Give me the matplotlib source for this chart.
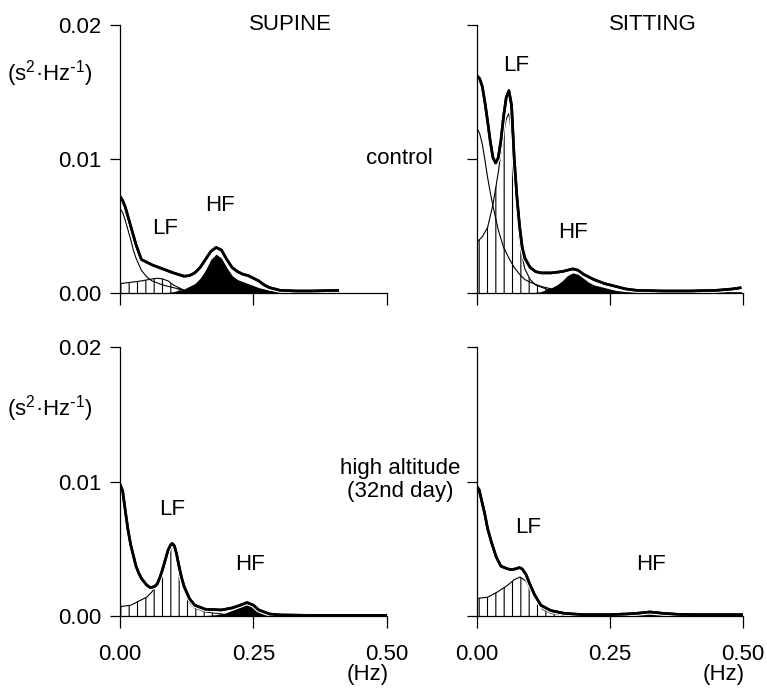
import matplotlib
matplotlib.use("Agg")
import matplotlib.pyplot as plt
import matplotlib.patheffects as pe

# ---- supine, control -------------------------------------------------------
sup_ctl_f_total = [0, .005, .01, .015, .02, .025, .03, .04, .05, .06, .08, .10, .12, .13,
                   .14, .15, .16, .17, .18, .19, .20, .21, .22, .23, .24, .25, .26, .27,
                   .28, .30, .33, .36, .41]
sup_ctl_total = [.0072, .0069, .0064, .0057, .0050, .0043, .0036, .0025, .0023, .0021, .0018,
                 .0015, .00125, .0013, .0015, .0019, .0025, .0031, .0034, .0032, .0025, .0019,
                 .0016, .0014, .0013, .0011, .0009, .0006, .0004, .0002, .00015, .00015, .0002]
sup_ctl_f_vlf = [0, .005, .01, .015, .02, .025, .03, .04, .05, .06, .08, .10, .12, .15, .18]
sup_ctl_vlf = [.0063, .0060, .0054, .0047, .0040, .0032, .0026, .0017, .0012, .0009, .0006,
               .0004, .0002, .0001, 0]
sup_ctl_f_lf = [0, .02, .04, .06, .07, .08, .09, .10, .11, .12, .13, .15]
sup_ctl_lf = [.0007, .0008, .0009, .00105, .0011, .00105, .0009, .0006, .0004, .0002, .0001, 0]
sup_ctl_f_hf = [.08, .10, .12, .14, .15, .16, .17, .18, .19, .20, .21, .22, .24, .26, .28,
                .30, .35, .41]
sup_ctl_hf = [0, .0001, .0003, .0007, .0011, .0017, .0025, .0029, .0026, .0019, .0013, .0010,
              .0007, .0004, .0002, .0001, .00008, .00008]

# ---- sitting, control ------------------------------------------------------
sit_ctl_f_total = [0, .005, .01, .015, .02, .025, .03, .035, .04, .045, .05, .055, .06, .065,
                   .07, .075, .08, .085, .09, .10, .11, .12, .14, .16, .17, .18, .19, .20,
                   .22, .24, .26, .28, .30, .35, .40, .45, .48, .497]
sit_ctl_total = [.0162, .0160, .0154, .0142, .0128, .0113, .0101, .0097, .0101, .0114, .0132,
                 .0146, .0151, .0140, .0100, .0072, .0050, .0034, .0026, .0019, .0016, .0015,
                 .0015, .0016, .0017, .0018, .0017, .0014, .0010, .0007, .0005, .0003, .0002,
                 .00015, .00015, .0002, .0003, .0004]
sit_ctl_f_vlf = [0, .005, .01, .015, .02, .025, .03, .04, .05, .06, .07, .08, .09, .10, .12,
                 .14, .17, .20]
sit_ctl_vlf = [.0123, .0119, .0111, .0099, .0086, .0075, .0065, .0047, .0034, .0026, .0019,
               .0014, .0010, .0008, .0005, .0003, .0001, 0]
sit_ctl_f_lf = [0, .01, .02, .03, .04, .045, .05, .055, .06, .065, .07, .075, .08, .085, .09,
                .10, .11, .13, .15]
sit_ctl_lf = [.0038, .0042, .0049, .0066, .0090, .0105, .0119, .0130, .0134, .0118, .0088,
              .0060, .0038, .0027, .0018, .0010, .0006, .0003, .0001]
sit_ctl_f_hf = [.10, .12, .14, .15, .16, .17, .18, .19, .20, .21, .22, .24, .26, .28, .30,
                .35, .40, .45, .497]
sit_ctl_hf = [0, .0001, .0004, .0006, .0009, .0013, .0015, .0014, .0011, .0008, .0006, .0004,
              .0002, .0001, .0001, .00008, .00008, .0001, .0001]

# ---- supine, high altitude -------------------------------------------------
sup_alt_f_total = [0, .005, .01, .015, .02, .025, .03, .035, .04, .05, .057, .065, .07, .075,
                   .08, .085, .09, .095, .098, .102, .106, .11, .115, .12, .13, .14, .16,
                   .19, .21, .225, .238, .25, .26, .28, .30, .35, .50]
sup_alt_total = [.0098, .0093, .0078, .0064, .0053, .0045, .0037, .0032, .0028, .0023, .0021,
                 .0022, .0024, .0029, .0035, .0042, .0049, .0053, .0054, .0052, .0046, .0038,
                 .0029, .0022, .0013, .0008, .0005, .00045, .0006, .0008, .0010, .0008,
                 .00045, .00015, .00008, .00005, .00005]
sup_alt_f_lf = [0, .02, .035, .05, .06, .07, .08, .085, .09, .095, .098, .102, .106, .11,
                .115, .12, .13, .14, .16, .20]
sup_alt_lf = [.0007, .0008, .0011, .0014, .0018, .0025, .0035, .0042, .0047, .0050, .0051,
              .0049, .0043, .0035, .0026, .0019, .0010, .0006, .0003, .0001]
sup_alt_f_hf = [.15, .18, .196, .215, .228, .238, .245, .254, .27, .29, .32, .40, .50]
sup_alt_hf = [0, .0001, .0002, .0005, .0008, .00095, .0009, .0006, .0002, .0001, .00005,
              .00003, .00003]

# ---- sitting, high altitude ------------------------------------------------
sit_alt_f_total = [0, .004, .008, .014, .02, .027, .036, .045, .058, .065, .072, .08, .085,
                   .092, .099, .108, .12, .139, .164, .20, .25, .28, .30, .325, .35, .38,
                   .42, .50]
sit_alt_total = [.0096, .0094, .0087, .0077, .0065, .0055, .0044, .0037, .0035, .00345, .0035,
                 .0036, .0035, .0031, .0024, .0016, .0008, .0004, .0002, .0001, .0001,
                 .00015, .0002, .0003, .0002, .00012, .0001, .0001]
sit_alt_f_lf = [0, .02, .039, .058, .07, .081, .092, .101, .111, .123, .139, .17]
sit_alt_lf = [.0013, .0014, .0018, .0023, .0027, .0029, .0026, .0019, .0012, .0005, .0002,
              .00005]
sit_alt_f_hf = [.22, .26, .29, .31, .325, .34, .36, .39, .42]
sit_alt_hf = [0, .00005, .00015, .00022, .00025, .00022, .00015, .00005, 0]

X_TICKS = [0, 0.25, 0.5]
X_TICK_LABELS = ["0.00", "0.25", "0.50"]
Y_TICKS = [0, 0.01, 0.02]
Y_TICK_LABELS = ["0.00", "0.01", "0.02"]

plt.rcParams["font.family"] = ["Liberation Sans", "DejaVu Sans"]
plt.rcParams["font.size"] = 16
plt.rcParams["mathtext.default"] = "regular"
plt.rcParams["hatch.linewidth"] = 0.8

W, H = 767, 690
fig = plt.figure(figsize=(W / 100, H / 100), dpi=100)


def px_axes(x0, y0, x1, y1):
    return fig.add_axes([x0 / W, 1 - y1 / H, (x1 - x0) / W, (y1 - y0) / H])


def draw_panel(ax, f_tot, tot, f_lf, lf, f_hf, hf, f_vlf=None, vlf=None):
    if f_vlf is not None:
        ax.plot(f_vlf, vlf, color="black", lw=0.8, zorder=2)
    ax.fill_between(f_lf, lf, 0, facecolor="white", edgecolor="black", hatch="||",
                    linewidth=0, zorder=1.5)
    ax.plot(f_lf, lf, color="black", lw=0.8, zorder=2)
    ax.fill_between(f_hf, hf, 0, color="black", linewidth=0, zorder=2)
    ax.plot(f_tot, tot, color="black", lw=1.9, zorder=3, solid_capstyle="butt",
            path_effects=[pe.withStroke(linewidth=3.8, foreground="white"), pe.Normal()])


def style(ax, xlabels, ylabels):
    ax.set_xlim(0, 0.5)
    ax.set_ylim(0, 0.02)
    for s in ("top", "right"):
        ax.spines[s].set_visible(False)
    for s in ("left", "bottom"):
        ax.spines[s].set_linewidth(0.9)
        ax.spines[s].set_zorder(4)
    ax.set_xticks(X_TICKS)
    ax.set_xticklabels(X_TICK_LABELS if xlabels else [])
    ax.set_yticks(Y_TICKS)
    ax.set_yticklabels(Y_TICK_LABELS if ylabels else [])
    ax.tick_params(axis="x", direction="out", length=8.5, width=0.9, pad=12)
    ax.tick_params(axis="y", direction="out", length=7.5, width=0.9, pad=6)


ax_tl = px_axes(120, 25, 387, 293)
ax_tr = px_axes(477, 25, 743, 293)
ax_bl = px_axes(120, 347, 387, 616)
ax_br = px_axes(477, 347, 743, 616)

draw_panel(ax_tl, sup_ctl_f_total, sup_ctl_total, sup_ctl_f_lf, sup_ctl_lf,
           sup_ctl_f_hf, sup_ctl_hf, sup_ctl_f_vlf, sup_ctl_vlf)
draw_panel(ax_tr, sit_ctl_f_total, sit_ctl_total, sit_ctl_f_lf, sit_ctl_lf,
           sit_ctl_f_hf, sit_ctl_hf, sit_ctl_f_vlf, sit_ctl_vlf)
draw_panel(ax_bl, sup_alt_f_total, sup_alt_total, sup_alt_f_lf, sup_alt_lf,
           sup_alt_f_hf, sup_alt_hf)
draw_panel(ax_br, sit_alt_f_total, sit_alt_total, sit_alt_f_lf, sit_alt_lf,
           sit_alt_f_hf, sit_alt_hf)

style(ax_tl, False, True)
style(ax_tr, False, False)
style(ax_bl, True, True)
style(ax_br, True, False)

# band labels
for ax, lf_xy, hf_xy in [(ax_tl, (0.084, 0.0048), (0.188, 0.0065)),
                         (ax_tr, (0.073, 0.0170), (0.180, 0.0045)),
                         (ax_bl, (0.098, 0.0079), (0.244, 0.0038)),
                         (ax_br, (0.096, 0.0066), (0.327, 0.0038))]:
    ax.text(*lf_xy, "LF", ha="center", va="center")
    ax.text(*hf_xy, "HF", ha="center", va="center")

ax_tl.text(0.32, 0.0200, "SUPINE", ha="center", va="center")
ax_tr.text(0.33, 0.0200, "SITTING", ha="center", va="center")

unit = r"(s$^{2}$·Hz$^{\text{-}1}$)"
ax_tl.text(-0.262, 0.817, unit, transform=ax_tl.transAxes, ha="center", va="center")
ax_bl.text(-0.262, 0.77, unit, transform=ax_bl.transAxes, ha="center", va="center")
for ax in (ax_bl, ax_br):
    ax.text(1.005, -0.216, "(Hz)", transform=ax.transAxes, ha="right", va="center")

ax_tr.text(-0.145, 0.01, "control", ha="center", va="center", clip_on=False)
ax_br.text(-0.145, 0.0101, "high altitude\n(32nd day)", ha="center", va="center",
           linespacing=1.15, clip_on=False)

fig.savefig("out.png", dpi=100)
